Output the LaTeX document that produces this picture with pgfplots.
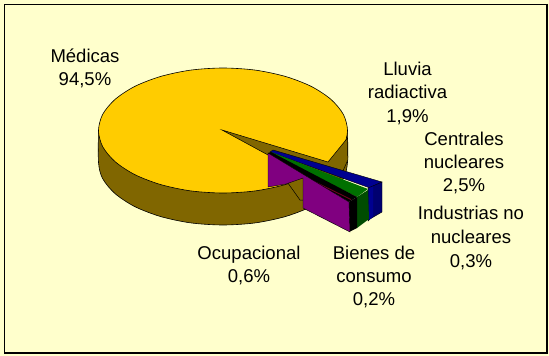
\documentclass[border=0pt]{standalone}
\usepackage{pgfplots}
\pgfplotsset{compat=1.18}
\usepackage{fontspec}
\setmainfont{Liberation Sans}
\definecolor{bgc}{HTML}{FFFFCC}
\definecolor{yel}{HTML}{FFCC00}
\definecolor{bro}{HTML}{806600}
\definecolor{pur}{HTML}{800080}
\definecolor{grn}{HTML}{007000}
\definecolor{grnd}{HTML}{004C00}
\definecolor{blu}{HTML}{000090}
\definecolor{blud}{HTML}{000070}
\definecolor{mar}{HTML}{700020}
\begin{document}
\begin{tikzpicture}
\begin{axis}[
  scale only axis, width=549bp, height=356bp,
  xmin=0, xmax=549, ymin=0, ymax=356, y dir=reverse,
  axis lines=none, clip=true,
  nodes={font=\fontsize{18.6}{20}\selectfont, anchor=base, text=black}
]
% background
\addplot[fill=bgc, draw=none] coordinates {(0,0)(549,0)(549,356)(0,356)} -- cycle;
% frame
\addplot[draw=black, line width=1.3bp] coordinates {(4.5,4.5)(547,4.5)};
\addplot[draw=black, line width=1.3bp] coordinates {(4.5,4.5)(4.5,353)};
\addplot[draw=black, line width=2.2bp] coordinates {(547,4)(547,353)};
\addplot[draw=black, line width=2.2bp] coordinates {(4,353)(548,353)};
% cylinder wall
\addplot[smooth, fill=bro, draw=black, line width=.6bp] coordinates {(98.5,130)(98.5,162.5)(102.7,178.7)(115.2,193.75)(135,206.7)(160.75,216.6)(190.8,222.9)(223,225)(255.2,222.9)(285.25,216.6)(311,206.7)(330.8,193.75)(343.3,178.7)(347.5,162.5)(347.5,130)} -- cycle;
% top face
\addplot[smooth cycle, fill=yel, draw=black, line width=.6bp] coordinates {(347.5,130.5)(343.3,146.7)(330.8,161.75)(311,174.7)(285.25,184.6)(255.2,190.9)(223,193)(190.8,190.9)(160.75,184.6)(135,174.7)(115.2,161.75)(102.7,146.7)(98.5,130.5)(102.7,114.3)(115.2,99.25)(135,86.3)(160.75,76.4)(190.8,70.1)(223,68)(255.2,70.1)(285.25,76.4)(311,86.3)(330.8,99.25)(343.3,114.3)};
% wedge gap
\addplot[fill=bro, draw=black, line width=.5bp] coordinates {(222,130)(328,162)(347.5,138)(347.8,160)(330,200)(300,200)(268,155)} -- cycle;
% blue
\addplot[fill=blu, draw=black, line width=.4bp] coordinates {(273,150)(382,182)(370,188)(270,152)} -- cycle;
\addplot[fill=blud, draw=black, line width=.4bp] coordinates {(368,188)(382,182)(382,212)(370,219)(368,221)} -- cycle;
\addplot[fill=blu, draw=none] coordinates {(369,188)(373,186.5)(373,217)(369,220)} -- cycle;
% green
\addplot[fill=grn, draw=none] coordinates {(271,152)(368,189)(357,197)(272,155)} -- cycle;
\addplot[fill=grnd, draw=none] coordinates {(357,197)(368,190)(369,219)(357,228)} -- cycle;
% black band and end
\addplot[fill=black, draw=none] coordinates {(268,153)(271,152)(357,197)(349,202)} -- cycle;
\addplot[fill=black, draw=none] coordinates {(349,202)(357,197)(357,228)(349,232)} -- cycle;
\addplot[draw=mar, line width=.9bp] coordinates {(305,177)(351,199.5)};
% purple wall
\addplot[fill=pur, draw=black, line width=.4bp] coordinates {(268,153)(349,202)(350,232)(303,208)(303,178)(286,184)(268,187)} -- cycle;
% labels (anchored on baselines)
\node at (axis cs:85,62) {Médicas};
\node at (axis cs:85,85) {94,5\%};
\node at (axis cs:407.5,75) {Lluvia};
\node at (axis cs:407.5,98) {radiactiva};
\node at (axis cs:407.5,122) {1,9\%};
\node at (axis cs:464,145) {Centrales};
\node at (axis cs:464,168) {nucleares};
\node at (axis cs:464,191) {2,5\%};
\node at (axis cs:471,219) {Industrias no};
\node at (axis cs:471,243) {nucleares};
\node at (axis cs:471,267) {0,3\%};
\node at (axis cs:249,259) {Ocupacional};
\node at (axis cs:249,282) {0,6\%};
\node at (axis cs:374,259) {Bienes de};
\node at (axis cs:374,282) {consumo};
\node at (axis cs:374,305) {0,2\%};
\end{axis}
\end{tikzpicture}
\end{document}
